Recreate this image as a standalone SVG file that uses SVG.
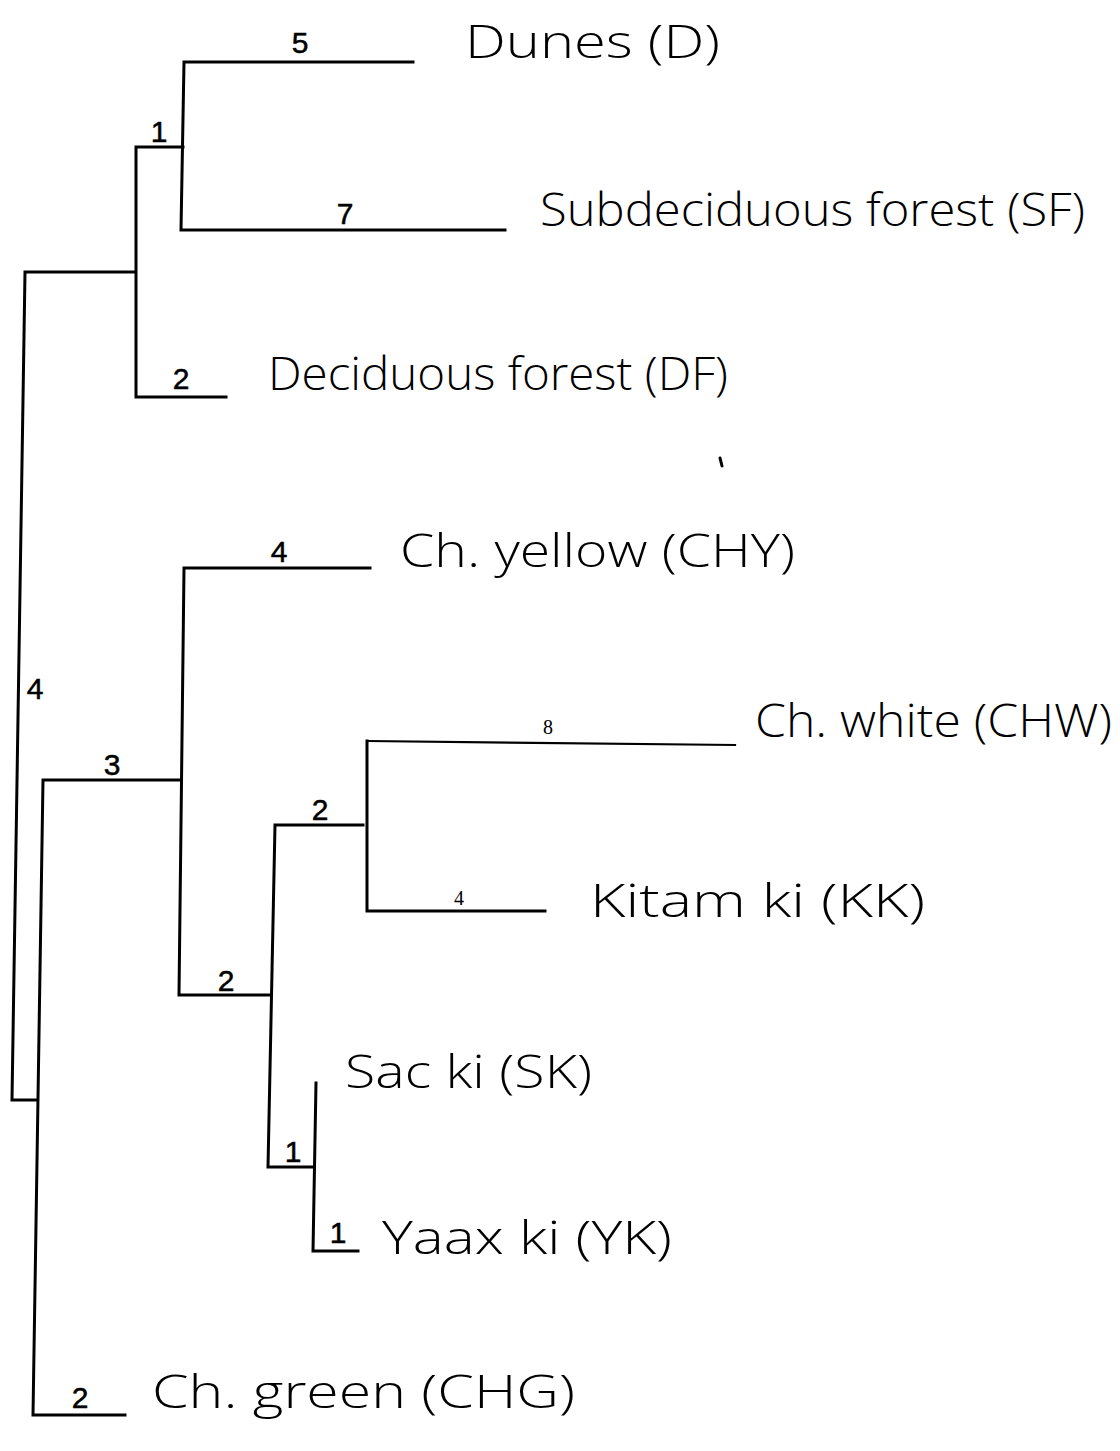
<svg xmlns="http://www.w3.org/2000/svg" width="1120" height="1451" viewBox="0 0 1120 1451">
  <style>
    .br { fill: none; stroke: #000; stroke-width: 3; stroke-linecap: square; }
    .thin { stroke-width: 2.2; }
    .num { font-family: "Liberation Sans", Arial, sans-serif; font-size: 30px; fill: #000; stroke: #000; stroke-width: 0.5; text-anchor: middle; }
    .num-s { font-family: "Liberation Serif", "Times New Roman", serif; font-size: 20px; fill: #000; text-anchor: middle; }
    .taxon { font-family: "Open Sans", "DejaVu Sans", sans-serif; font-weight: 300; font-size: 46px; fill: #000; }
  </style>
  <rect width="1120" height="1451" fill="#fff"/>

  <!-- branches of the tree -->
  <g id="connectors">
    <!-- root -->
    <path class="br" d="M25,272 L12,1100 M25,272 H135 M12,1100 H37"/>
    <!-- forest clade -->
    <path class="br" d="M136,147 V397 M136,147 H183 M136,397 H226"/>
    <!-- Dunes / Subdeciduous forest -->
    <path class="br" d="M184,62 L181,230 M184,62 H413 M181,230 H505"/>
    <!-- Chaya clade + Ch. green -->
    <path class="br" d="M43,780 L33,1415 M43,780 H180 M33,1415 H125"/>
    <!-- Ch. yellow node -->
    <path class="br" d="M184,568 L179,995 M184,568 H370 M179,995 H270"/>
    <!-- inner node -->
    <path class="br" d="M275,825 L268,1167 M275,825 H363 M268,1167 H314"/>
    <!-- Ch. white / Kitam ki -->
    <path class="br" d="M367,741 V911 M367,911 H545"/>
    <path class="br thin" d="M368,741 L735,745"/>
    <!-- Sac ki / Yaax ki -->
    <path class="br" d="M316,1083 L313,1251 M313,1251 H358"/>

    <!-- branch lengths -->
    <text class="num" x="300" y="53">5</text>
    <text class="num" x="345" y="224">7</text>
    <text class="num" x="159" y="142">1</text>
    <text class="num" x="181" y="389">2</text>
    <text class="num" x="35" y="699">4</text>
    <text class="num" x="112" y="775">3</text>
    <text class="num" x="279" y="562">4</text>
    <text class="num" x="320" y="820">2</text>
    <text class="num-s" x="548" y="734">8</text>
    <text class="num-s" x="459" y="905">4</text>
    <text class="num" x="226" y="991">2</text>
    <text class="num" x="293" y="1162">1</text>
    <text class="num" x="338" y="1243">1</text>
    <text class="num" x="80" y="1408">2</text>
  </g>

  <!-- terminal taxa -->
  <g id="node-D">
    <text class="taxon" x="465" y="58" textLength="255" lengthAdjust="spacingAndGlyphs">Dunes (D)</text>
  </g>
  <g id="node-SF">
    <text class="taxon" x="540" y="226" textLength="545" lengthAdjust="spacingAndGlyphs">Subdeciduous forest (SF)</text>
  </g>
  <g id="node-DF">
    <text class="taxon" x="268" y="390" textLength="460" lengthAdjust="spacingAndGlyphs">Deciduous forest (DF)</text>
  </g>
  <g id="node-CHY">
    <text class="taxon" x="400" y="567" textLength="395" lengthAdjust="spacingAndGlyphs">Ch. yellow (CHY)</text>
  </g>
  <g id="node-CHW">
    <text class="taxon" x="755" y="737" textLength="357" lengthAdjust="spacingAndGlyphs">Ch. white (CHW)</text>
  </g>
  <g id="node-KK">
    <text class="taxon" x="590" y="917" textLength="335" lengthAdjust="spacingAndGlyphs">Kitam ki (KK)</text>
  </g>
  <g id="node-SK">
    <text class="taxon" x="345" y="1088" textLength="247" lengthAdjust="spacingAndGlyphs">Sac ki (SK)</text>
  </g>
  <g id="node-YK">
    <text class="taxon" x="382" y="1254" textLength="290" lengthAdjust="spacingAndGlyphs">Yaax ki (YK)</text>
  </g>
  <g id="node-CHG">
    <text class="taxon" x="152" y="1408" textLength="423" lengthAdjust="spacingAndGlyphs">Ch. green (CHG)</text>
  </g>

  <!-- stray pen mark -->
  <path d="M720,458 L722,466" stroke="#000" stroke-width="3" stroke-linecap="round"/>
</svg>
